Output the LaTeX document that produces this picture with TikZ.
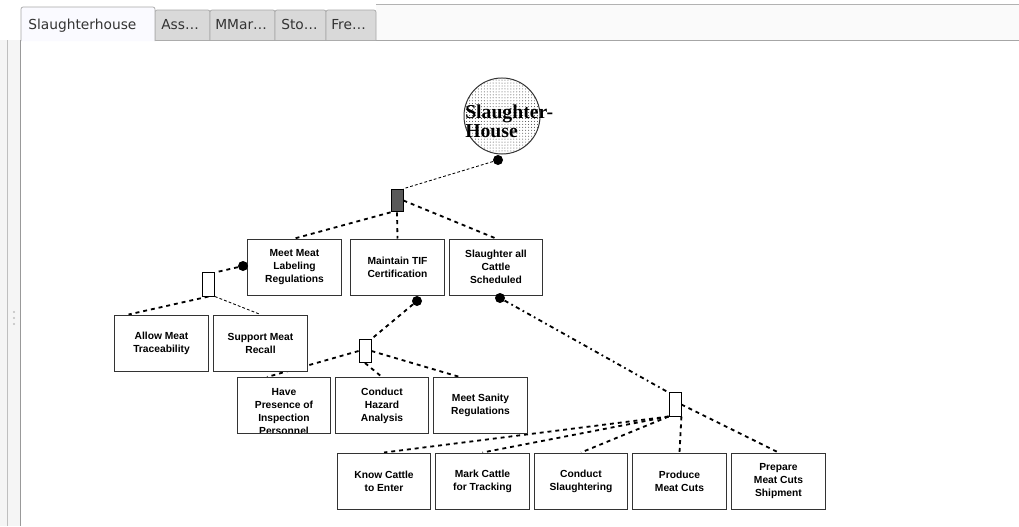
\documentclass[tikz,border=0pt]{standalone}
\usepackage{fontspec}
\newfontfamily\tabfont{DejaVu Sans}
\newfontfamily\boxfont{Liberation Sans}
\newfontfamily\housefont{Liberation Serif}
\usetikzlibrary{calc,backgrounds,patterns.meta}

\begin{document}
\begin{tikzpicture}[x=0.025cm,y=-0.025cm,
  goal/.style={draw=black!80,line width=0.7pt,fill=white,minimum width=2.33cm,minimum height=1.4cm,
    inner sep=1pt,align=center,font=\boxfont\bfseries\fontsize{7.3}{9.2}\selectfont},
  andgate/.style={draw=black,line width=0.6pt,fill=black!65,minimum width=0.3cm,minimum height=0.57cm,inner sep=0pt},
  orgate/.style={draw=black,line width=0.6pt,fill=white,minimum width=0.3cm,minimum height=0.58cm,inner sep=0pt},
  blob/.style={circle,fill=black,minimum size=0.25cm,inner sep=0pt},
  heavylink/.style={line width=1.3pt,dash pattern=on 2.8pt off 2.8pt},
  lightlink/.style={line width=0.6pt,dash pattern=on 2pt off 1.5pt},
  dotdashlink/.style={line width=1.3pt,dash pattern=on 3pt off 2.5pt on 1.2pt off 2.5pt},
  tabshape/.style={draw=black!35,line width=0.5pt,fill=black!15,rounded corners=1.5pt},
  tablabel/.style={font=\tabfont\fontsize{9.8}{11}\selectfont,text=black!80,anchor=base west,inner sep=0pt}
]
\useasboundingbox (0,0) rectangle (1019,526);
\fill[black!4] (0,40) rectangle (20,526);
\draw[black!25] (7,40) -- (7,526);
\draw[black!40] (20,40) -- (20,526);
\foreach \y in {312,318,324} \fill[black!25] (14,\y) circle (0.8pt);
\fill[black!2] (376,4) rectangle (1019,40);
\draw[black!30] (376,4) -- (1019,4);
\draw[black!35] (155,40) -- (1019,40);

\draw[tabshape] (155,40) -- (155,10) -- (210,10) -- (210,40);
\draw[tabshape] (210,40) -- (210,10) -- (275,10) -- (275,40);
\draw[tabshape] (275,40) -- (275,10) -- (326,10) -- (326,40);
\draw[tabshape] (326,40) -- (326,10) -- (376,10) -- (376,40);
\draw[tabshape,fill=blue!2!white] (21,41) -- (21,7) -- (155,7) -- (155,41);
\node[tablabel] (tab1) at (28,29) {Slaughterhouse};
\node[tablabel] (tab2) at (161,29) {Ass…};
\node[tablabel] (tab3) at (215,29) {MMar…};
\node[tablabel] (tab4) at (281,29) {Sto…};
\node[tablabel] (tab5) at (331,29) {Fre…};

\node[circle,draw=black!80,line width=0.7pt,minimum size=1.9cm,
  pattern={Dots[distance=2.1pt,radius=0.35pt]},pattern color=black!75] (house) at (502,116) {};
\node[font=\housefont\bfseries\fontsize{14}{12}\selectfont,align=left,anchor=west,inner sep=0pt] (houselabel) at (465,121) {Slaughter-\\House};
\node[blob] (d0) at (498,160) {};

\node[andgate] (and1) at (397,200.5) {};

\node[goal] (meat) at (294.5,267) {Meet Meat\\Labeling\\Regulations};
\node[goal] (tif) at (397.5,267) {Maintain TIF\\Certification};
\node[goal] (slaughter) at (496,267) {Slaughter all\\Cattle\\Scheduled};
\node[blob] (dmeat) at (243,266) {};
\node[blob] (dtif) at (417,301) {};
\node[blob] (dsl) at (500,298) {};

\node[orgate] (or1) at (208.5,284.5) {};
\node[goal] (allow) at (161.5,343) {Allow Meat\\Traceability};
\node[goal] (recall) at (260.5,343) {Support Meat\\Recall};

\node[orgate] (or2) at (365,351) {};
\node[goal,path picture={\node[font=\boxfont\bfseries\fontsize{7.3}{9.2}\selectfont,align=center,anchor=north]
  at ([yshift=-4pt]path picture bounding box.north) {Have\\Presence of\\Inspection\\Personnel};}] (presence) at (284,405.5) {};
\node[goal] (hazard) at (382,405.5) {Conduct\\Hazard\\Analysis};
\node[goal] (sanity) at (480.5,405.5) {Meet Sanity\\Regulations};

\node[orgate] (or3) at (675,404.5) {};
\node[goal] (know) at (384,481) {Know Cattle\\to Enter};
\node[goal] (mark) at (482.5,481) {Mark Cattle\\for Tracking};
\node[goal] (conduct) at (581,481) {Conduct\\Slaughtering};
\node[goal] (produce) at (679.5,481) {Produce\\Meat Cuts};
\node[goal] (prepare) at (778.5,481) {Prepare\\Meat Cuts\\Shipment};

\begin{scope}[on background layer]
\draw[lightlink] (d0) -- (and1.north east);
\draw[heavylink] (and1.south west) -- (meat.north);
\draw[heavylink] (and1.south) -- (tif.north);
\draw[heavylink] (and1.east) -- (slaughter.north);
\draw[heavylink] (dmeat) -- (or1.north east);
\draw[heavylink] (or1.south) -- ($(allow.north west)!0.15!(allow.north east)$);
\draw[lightlink] (or1.south east) -- (recall.north);
\draw[heavylink] (dtif) -- (or2.north east);
\draw[heavylink] (or2.west) -- ($(presence.north west)!0.32!(presence.north east)$);
\draw[heavylink] (or2.south) -- (hazard.north);
\draw[heavylink] (or2.east) -- ($(sanity.north west)!0.28!(sanity.north east)$);
\draw[dotdashlink] (dsl) -- (or3.north west);
\draw[heavylink] (or3.south west) -- (know.north);
\draw[heavylink] (or3.south west) -- (mark.north);
\draw[heavylink] (or3.south west) -- (conduct.north);
\draw[heavylink] (or3.south east) -- (produce.north);
\draw[heavylink] (or3.east) -- (prepare.north);
\end{scope}
\end{tikzpicture}
\end{document}
